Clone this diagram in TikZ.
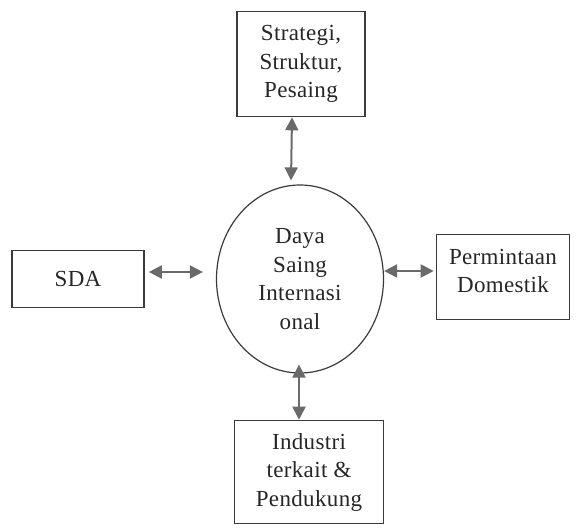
\documentclass[tikz,border=0pt]{standalone}
\usepackage{fontspec}
\setmainfont{Liberation Serif}[LetterSpace=1.5]
\usetikzlibrary{shapes.geometric,arrows.meta}
\definecolor{garis}{HTML}{3a3a3a}
\definecolor{panah}{HTML}{6a6a6a}

\begin{document}
\begin{tikzpicture}[x=1pt, y=-1pt,
    kotak/.style = {draw = garis, line width = 1.6pt, rectangle, align = center,
        font = \fontsize{23}{28.5}\selectfont, text = black!85, inner sep = 0pt},
    dua/.style = {{Triangle[length=13pt, width=13pt]}-{Triangle[length=13pt, width=13pt]},
        draw = panah, fill = panah, line width = 2pt}]
        \useasboundingbox (0, 0) rectangle (576, 528);
        % Nodes
        \node [kotak, minimum width = 128pt, minimum height = 105pt] (strategi) at (301, 64) {Strategi,\\Struktur,\\Pesaing};
        \node [kotak, ellipse, line width = 1.2pt, minimum width = 167pt, minimum height = 188pt] (daya) at (300, 279) {Daya\\Saing\\Internasi\\onal};
        \node [kotak, minimum width = 132pt, minimum height = 57pt] (sda) at (78, 279) {SDA};
        \node [kotak, minimum width = 133pt, minimum height = 85pt] (permintaan) at (503, 277) {Permintaan\\Domestik\\[-16pt]};
        \node [kotak, minimum width = 149pt, minimum height = 103pt] (industri) at (309, 472) {Industri\\terkait \&\\Pendukung};
        % Links
        \draw [dua] ([xshift = -9pt]strategi.south) -- ([xshift = -9pt, yshift = 4pt]daya.north);
        \draw [dua, shorten <= 4pt, shorten >= 13pt] (sda.east |- 0, 272) -- (daya.west |- 0, 272);
        \draw [dua, shorten >= 2pt] (daya.east |- 0, 271) -- (permintaan.west |- 0, 271);
        \draw [dua] ([xshift = -1pt, yshift = 9pt]daya.south) -- ([xshift = -1pt]daya.south |- industri.north);
\end{tikzpicture}
\end{document}
